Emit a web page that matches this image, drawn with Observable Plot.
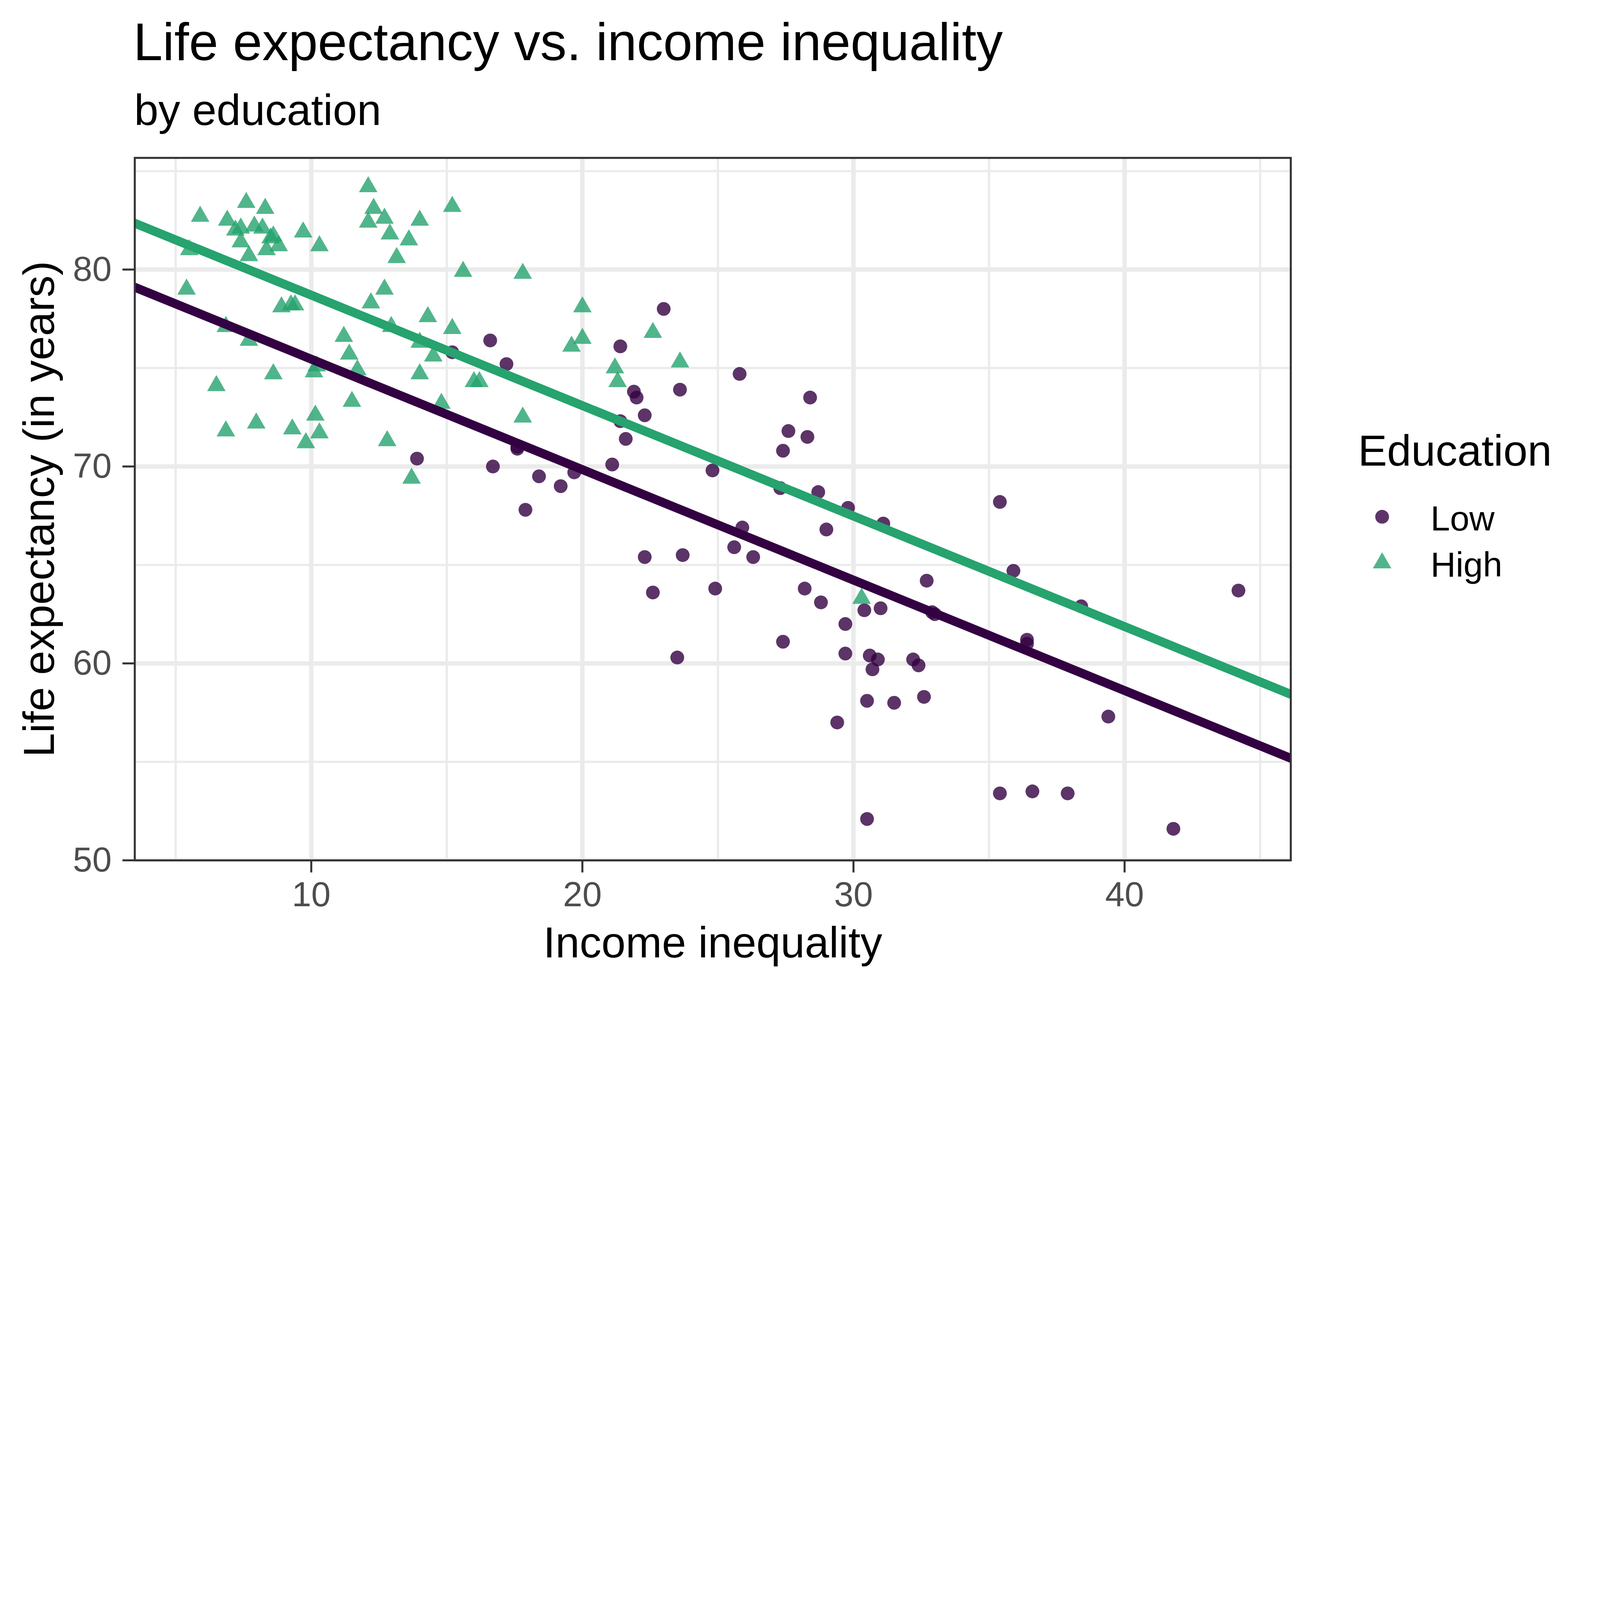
<!DOCTYPE html>
<html><head><meta charset="utf-8">
<script src="https://cdn.jsdelivr.net/npm/d3@7"></script>
<script src="https://cdn.jsdelivr.net/npm/@observablehq/plot@0.6"></script>
<style>
html,body{margin:0;padding:0;background:#fff;font-family:"Liberation Sans",Arial,sans-serif;overflow:hidden}
#wrap{position:absolute;left:0;top:0;width:7200px;height:4449px;overflow:hidden;background:#fff;transform-origin:0 0}
.t{position:absolute;white-space:nowrap;line-height:1;color:#000}
</style></head><body>
<div id="wrap">
<div class="t" id="title" style="left:600px;top:69px;font-size:237px">Life expectancy vs. income inequality</div>
<div class="t" id="subtitle" style="left:604px;top:398px;font-size:196px">by education</div>
<div id="chart" style="position:absolute;left:0;top:640px"></div>
<div class="t" id="legtitle" style="left:6111px;top:1931px;font-size:196px">Education</div>
<div id="legend" style="position:absolute;left:6100px;top:2200px"></div>
</div>
<script>
const groups = ["Low", "High"];
const groupColors = ["#330142", "#26A36E"];
const groupSymbols = ["circle", "triangle"];

const lowX = [15.2,16.6,16.7,17.2,17.6,17.6,17.9,18.4,19.2,19.7,13.9,21.1,21.4,21.4,21.6,21.9,22.0,22.3,22.3,22.6,23.0,23.5,23.6,23.7,24.8,24.9,25.6,25.8,25.9,26.3,27.3,27.4,27.4,27.6,28.2,28.3,28.4,28.7,28.8,29.0,29.4,29.7,29.7,29.8,30.4,30.5,30.5,30.6,30.7,30.9,31.0,31.1,31.5,32.2,32.4,32.6,32.7,32.9,33.0,35.4,35.4,35.9,36.4,36.4,36.6,37.9,38.4,39.4,41.8,44.2];
const lowY = [75.8,76.4,70.0,75.2,70.9,71.0,67.8,69.5,69.0,69.7,70.4,70.1,72.3,76.1,71.4,73.8,73.5,72.6,65.4,63.6,78.0,60.3,73.9,65.5,69.8,63.8,65.9,74.7,66.9,65.4,68.9,70.8,61.1,71.8,63.8,71.5,73.5,68.7,63.1,66.8,57.0,62.0,60.5,67.9,62.7,58.1,52.1,60.4,59.7,60.2,62.8,67.1,58.0,60.2,59.9,58.3,64.2,62.6,62.5,68.2,53.4,64.7,61.2,61.0,53.5,53.4,62.9,57.3,51.6,63.7];

const highX = [5.5,5.9,5.4,6.5,6.85,6.85,6.9,7.2,7.4,7.6,7.4,7.7,7.7,7.97,7.9,8.2,8.3,8.35,8.5,8.6,8.8,8.6,8.9,9.25,9.4,9.3,9.7,9.8,10.15,10.2,10.3,10.3,11.2,11.4,11.5,11.7,12.1,12.1,12.2,12.3,12.7,12.7,12.8,12.9,12.95,13.15,13.6,13.7,14.0,14.0,14.0,14.3,14.5,14.8,15.2,15.2,15.6,16.0,16.2,17.8,17.8,20.0,20.0,19.6,21.2,21.3,22.6,23.6,30.3,10.1];
const highY = [81.0,82.7,79.0,74.1,71.8,77.1,82.5,82.0,81.4,83.4,82.1,80.7,76.4,72.2,82.2,82.1,83.1,81.0,81.6,81.7,81.2,74.7,78.1,78.2,78.2,71.9,81.9,71.2,72.6,75.1,81.2,71.7,76.6,75.7,73.3,74.9,84.2,82.4,78.3,83.1,82.6,79.0,71.3,81.8,77.1,80.6,81.5,69.4,82.5,74.7,76.3,77.6,75.6,73.2,83.2,77.0,79.9,74.3,74.3,79.8,72.5,78.1,76.5,76.1,75.0,74.3,76.8,75.3,63.3,74.8];

// parallel-slopes model fit (common slope, group intercepts)
const fitSlope = -0.561;
const fitIntercepts = [81.06, 84.31];

const xDomain = [3.49, 46.13];
const yDomain = [50, 85.67];
const xMajor = [10, 20, 30, 40];
const xMinor = [5, 15, 25, 35, 45];
const yMajor = [50, 60, 70, 80];
const yMinor = [55, 65, 75, 85];
const xTitle = "Income inequality";
const yTitle = "Life expectancy (in years)";

const rows = [
  ...lowX.map((x, i) => ({x, y: lowY[i], g: "Low"})),
  ...highX.map((x, i) => ({x, y: highY[i], g: "High"}))
];
const fitRows = groups.flatMap((g, i) =>
  xDomain.map(x => ({x, y: fitIntercepts[i] + fitSlope * x, g})));

const font = '"Liberation Sans", Arial, sans-serif';
const colorScale = {domain: groups, range: groupColors};
const symbolScale = {domain: groups, range: groupSymbols};
const fmt = d => String(d);

const chart = Plot.plot({
  width: 6000, height: 3809,
  marginLeft: 606, marginRight: 192, marginTop: 70, marginBottom: 578,
  style: {fontFamily: font, background: "white", overflow: "visible"},
  x: {domain: xDomain},
  y: {domain: yDomain},
  color: colorScale,
  symbol: symbolScale,
  marks: [
    Plot.gridX(xMinor, {stroke: "#EBEBEB", strokeOpacity: 1, strokeWidth: 10}),
    Plot.gridY(yMinor, {stroke: "#EBEBEB", strokeOpacity: 1, strokeWidth: 10}),
    Plot.gridX(xMajor, {stroke: "#EBEBEB", strokeOpacity: 1, strokeWidth: 20}),
    Plot.gridY(yMajor, {stroke: "#EBEBEB", strokeOpacity: 1, strokeWidth: 20}),
    Plot.dot(rows, {x: "x", y: "y", fill: "g", symbol: "g", r: 31, fillOpacity: 0.8, stroke: null}),
    Plot.line(fitRows, {x: "x", y: "y", z: "g", stroke: "g", strokeWidth: 40, clip: true}),
    Plot.axisX(xMajor, {tickSize: 55, tickPadding: 41, fontSize: 157, tickFormat: fmt, color: "#4D4D4D", stroke: "#333333", strokeWidth: 9, label: null}),
    Plot.axisY(yMajor, {tickSize: 55, tickPadding: 49, fontSize: 157, tickFormat: fmt, color: "#4D4D4D", stroke: "#333333", strokeWidth: 9, label: null}),
    Plot.frame({stroke: "#333333", strokeWidth: 9}),
    Plot.text([xTitle], {frameAnchor: "bottom", dy: 437, textAnchor: "middle", lineAnchor: "bottom", fontSize: 196, fill: "#000"}),
    Plot.text([yTitle], {frameAnchor: "left", dx: -364, rotate: -90, textAnchor: "middle", lineAnchor: "bottom", fontSize: 196, fill: "#000"})
  ]
});
document.getElementById("chart").appendChild(chart);

const legend = Plot.plot({
  width: 900, height: 500, margin: 0,
  style: {fontFamily: font, background: "transparent", overflow: "visible"},
  y: {type: "point", domain: groups, range: [125, 333], padding: 0, axis: null},
  color: colorScale,
  symbol: symbolScale,
  marks: [
    Plot.dot(groups, {frameAnchor: "left", dx: 119, y: d => d, fill: d => d, symbol: d => d, r: 31, fillOpacity: 0.8}),
    Plot.text(groups, {frameAnchor: "left", dx: 337, dy: 11, y: d => d, text: d => d, textAnchor: "start", fontSize: 157, fill: "#000"})
  ]
});
document.getElementById("legend").appendChild(legend);

// the browser viewport may be smaller than the 7200x4449 design: scale uniformly to fit
function fit() {
  const k = Math.min(1, window.innerWidth / 7200, window.innerHeight / 4449);
  document.getElementById("wrap").style.transform = "scale(" + k + ")";
}
fit();
window.addEventListener("resize", fit);
</script>
</body></html>
